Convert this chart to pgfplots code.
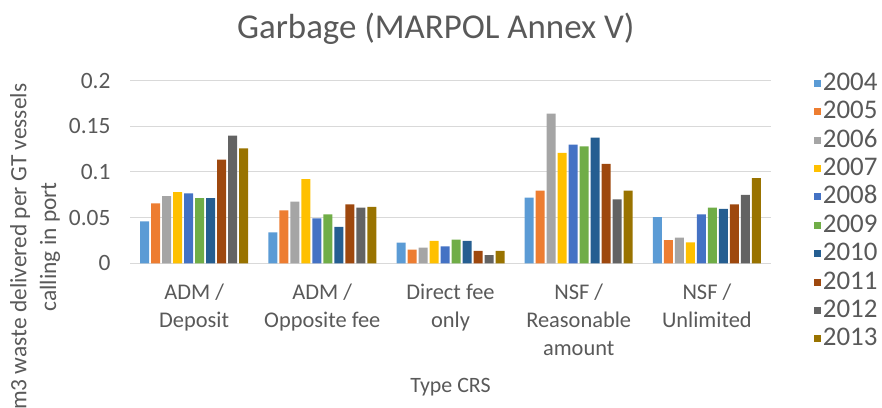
\documentclass[border=0pt]{standalone}
\usepackage{pgfplots}
\pgfplotsset{compat=1.18}
\usepackage{fontspec}
\setmainfont{Carlito}
\definecolor{c04}{HTML}{5B9BD5}
\definecolor{c05}{HTML}{ED7D31}
\definecolor{c06}{HTML}{A5A5A5}
\definecolor{c07}{HTML}{FFC000}
\definecolor{c08}{HTML}{4472C4}
\definecolor{c09}{HTML}{70AD47}
\definecolor{c10}{HTML}{255E91}
\definecolor{c11}{HTML}{9E480E}
\definecolor{c12}{HTML}{636363}
\definecolor{c13}{HTML}{997300}
\definecolor{txt}{HTML}{595959}
\definecolor{grid}{HTML}{D9D9D9}
\begin{document}
\begin{tikzpicture}
\useasboundingbox (0,0) rectangle (882bp,408bp);
\begin{axis}[
  at={(130bp,144.7bp)}, anchor=south west,
  scale only axis, width=641bp, height=182.6bp,
  ybar, bar width=9bp, /pgf/bar shift auto/.cd, /pgfplots/ybar=2bp,
  xmin=-0.5, xmax=4.5, ymin=0, ymax=0.2,
  ytick={0,0.05,0.1,0.15,0.2},
  yticklabels={0,0.05,0.1,0.15,0.2},
  xtick={0,1,2,3,4},
  xticklabels={ADM /\\Deposit, ADM /\\Opposite fee, Direct fee\\only, NSF /\\Reasonable\\amount, NSF /\\Unlimited},
  xticklabel style={align=center, font=\fontsize{22.5}{28}\selectfont, text=txt, yshift=-17bp},
  yticklabel style={font=\fontsize{23.5}{23.5}\selectfont, text=txt, xshift=-16bp},
  major tick length=0pt,
  axis line style={draw=none},
  axis x line*=bottom,
  x axis line style={draw=grid, line width=1bp},
  ymajorgrids, grid style={draw=grid, line width=1bp},
  title={Garbage (MARPOL Annex V)},
  title style={at={(rel axis cs:0.477,1.25)}, anchor=center, font=\fontsize{35}{35}\selectfont, text=txt},
  xlabel={Type CRS},
  xlabel style={at={(rel axis cs:0.5,-0.68)}, anchor=center, font=\fontsize{22}{22}\selectfont, text=txt},
  ylabel={m3 waste delivered per GT vessels\\calling in port},
  ylabel style={at={(rel axis cs:-0.148,0.09)}, anchor=center, align=center, font=\fontsize{23.5}{30}\selectfont, text=txt},
  legend style={at={(rel axis cs:1.067,1.024)}, anchor=north west, draw=none, fill=none,
    inner sep=0pt, outer sep=0pt, row sep=14.4bp, column sep=2bp,
    font=\fontsize{27}{27}\selectfont, text=txt,
    nodes={inner sep=0pt, text height=14bp, text depth=0bp}},
  legend image code/.code={\fill[#1] (0bp,-3.5bp) rectangle (7bp,3.5bp);},
  legend cell align=left,
]
\addplot[fill=c04, draw=none] coordinates {(0,0.046) (1,0.034) (2,0.0226) (3,0.0719) (4,0.0507)};
\addplot[fill=c05, draw=none] coordinates {(0,0.0657) (1,0.058) (2,0.015) (3,0.0796) (4,0.0255)};
\addplot[fill=c06, draw=none] coordinates {(0,0.0737) (1,0.0675) (2,0.0172) (3,0.164) (4,0.028)};
\addplot[fill=c07, draw=none] coordinates {(0,0.078) (1,0.0923) (2,0.0245) (3,0.121) (4,0.023)};
\addplot[fill=c08, draw=none] coordinates {(0,0.0766) (1,0.0493) (2,0.0186) (3,0.130) (4,0.0536)};
\addplot[fill=c09, draw=none] coordinates {(0,0.0715) (1,0.0537) (2,0.026) (3,0.128) (4,0.061)};
\addplot[fill=c10, draw=none] coordinates {(0,0.0715) (1,0.040) (2,0.0245) (3,0.1376) (4,0.0595)};
\addplot[fill=c11, draw=none] coordinates {(0,0.1135) (1,0.0646) (2,0.0135) (3,0.1088) (4,0.0646)};
\addplot[fill=c12, draw=none] coordinates {(0,0.1398) (1,0.061) (2,0.009) (3,0.070) (4,0.075)};
\addplot[fill=c13, draw=none] coordinates {(0,0.126) (1,0.0617) (2,0.0135) (3,0.0796) (4,0.0934)};
\legend{2004,2005,2006,2007,2008,2009,2010,2011,2012,2013}
\end{axis}
\end{tikzpicture}
\end{document}
